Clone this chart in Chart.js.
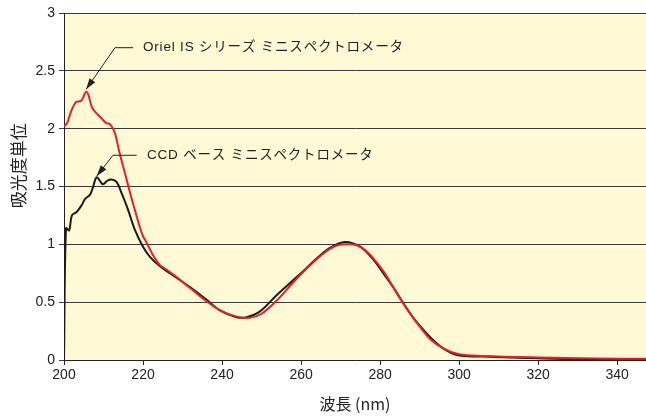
<!DOCTYPE html>
<html>
<head>
<meta charset="utf-8">
<script src="https://cdn.jsdelivr.net/npm/chart.js@4"></script>
<style>
  html, body { margin: 0; padding: 0; background: #fff; }
  #wrap { width: 646px; height: 418px; }
</style>
</head>
<body>
<div id="wrap"><canvas id="spectrumChart" width="646" height="418"></canvas></div>
<script>
// wavelength (nm) / absorbance
const orielWavelengths = [200, 200.8, 201.8, 203, 204.3, 205, 205.6, 206.2, 207, 208, 209.5, 210.6, 211.6, 212.4, 213, 214, 215, 216, 217, 218, 219, 220, 221, 222, 223, 224.3, 226, 228, 232, 236, 240, 243.7, 247, 250, 254, 258, 262, 266, 269, 272.4, 275, 278, 281, 284, 287, 290, 293, 296, 300, 306, 320, 335, 347.5];
const orielAbsorbance  = [2.02, 2.05, 2.15, 2.23, 2.24, 2.28, 2.32, 2.29, 2.19, 2.14, 2.09, 2.05, 2.04, 2.00, 1.95, 1.80, 1.67, 1.54, 1.41, 1.29, 1.17, 1.07, 1.01, 0.94, 0.88, 0.82, 0.78, 0.73, 0.62, 0.51, 0.42, 0.375, 0.365, 0.40, 0.52, 0.67, 0.81, 0.93, 0.99, 1.00, 0.98, 0.89, 0.76, 0.59, 0.43, 0.29, 0.17, 0.10, 0.05, 0.035, 0.022, 0.014, 0.01];

const ccdWavelengths = [200, 200.5, 201.3, 202, 203.2, 204.5, 205.3, 206.6, 207.3, 208.3, 209.8, 211, 212, 213.3, 214.6, 216.2, 218, 220, 221.8, 224.3, 226.8, 231.9, 236.1, 239.5, 243.7, 246.2, 249.6, 253.8, 257, 260.6, 264, 267.3, 271.1, 274.9, 278, 280.8, 283.5, 285.9, 288.5, 291, 293.5, 296, 299.8, 306, 319.7, 331, 347.5];
const ccdAbsorbance  = [0.0, 1.14, 1.12, 1.25, 1.28, 1.34, 1.39, 1.43, 1.49, 1.58, 1.52, 1.55, 1.56, 1.54, 1.44, 1.30, 1.12, 0.98, 0.89, 0.81, 0.75, 0.63, 0.52, 0.43, 0.37, 0.37, 0.42, 0.56, 0.66, 0.77, 0.88, 0.97, 1.02, 0.98, 0.88, 0.75, 0.62, 0.49, 0.36, 0.26, 0.17, 0.10, 0.04, 0.03, 0.015, 0.006, 0.005];

const yTicks = [0, 0.5, 1, 1.5, 2, 2.5, 3];
const xTicks = [200, 220, 240, 260, 280, 300, 320, 340];

const orielLabel = 'Oriel IS シリーズ ミニスペクトロメータ';
const ccdLabel = 'CCD ベース ミニスペクトロメータ';
const yTitle = '吸光度単位';

const toPoints = (xs, ys) => xs.map((x, i) => ({ x: x, y: ys[i] }));

// yellow plot area behind everything
const plotBackground = {
    id: 'plotBackground',
    beforeDraw(chart) {
        const { ctx, chartArea: a } = chart;
        ctx.save();
        ctx.fillStyle = '#fff9d6';
        ctx.fillRect(a.left, a.top, a.right - a.left, a.bottom - a.top);
        ctx.restore();
    }
};

// y title sits a bit above the middle in the original, so draw it by hand
const yTitlePlugin = {
    id: 'yTitle',
    afterDraw(chart) {
        const { ctx, chartArea: a } = chart;
        ctx.save();
        ctx.translate(a.left - 45, a.top + (a.bottom - a.top) * 0.44);
        ctx.rotate(-Math.PI / 2);
        ctx.font = '17px "Noto Sans CJK JP", sans-serif';
        ctx.fillStyle = '#222';
        ctx.textAlign = 'center';
        ctx.textBaseline = 'middle';
        ctx.fillText(yTitle, 0, 0);
        ctx.restore();
    }
};

// callouts: arrow tip on the curve, elbow, then a short horizontal line and the label
const callouts = [
    { text: orielLabel, tip: [205.6, 2.34], elbow: [212.9, 2.70], lineEnd: 217.5, textX: 220 },
    { text: ccdLabel, tip: [208.3, 1.59], elbow: [212.4, 1.77], lineEnd: 218.4, textX: 221 }
];

const calloutPlugin = {
    id: 'callouts',
    afterDatasetsDraw(chart) {
        const { ctx, scales: { x, y } } = chart;
        ctx.save();
        ctx.strokeStyle = '#222';
        ctx.fillStyle = '#222';
        ctx.lineWidth = 1;
        callouts.forEach(c => {
            const tx = x.getPixelForValue(c.tip[0]), ty = y.getPixelForValue(c.tip[1]);
            const ex = x.getPixelForValue(c.elbow[0]), ey = y.getPixelForValue(c.elbow[1]);
            const lx = x.getPixelForValue(c.lineEnd);
            ctx.beginPath();
            ctx.moveTo(lx, ey);
            ctx.lineTo(ex, ey);
            ctx.lineTo(tx, ty);
            ctx.stroke();
            // arrow head
            const ang = Math.atan2(ty - ey, tx - ex);
            const len = 11, half = 3.5;
            ctx.beginPath();
            ctx.moveTo(tx, ty);
            ctx.lineTo(tx - len * Math.cos(ang) + half * Math.sin(ang), ty - len * Math.sin(ang) - half * Math.cos(ang));
            ctx.lineTo(tx - len * Math.cos(ang) - half * Math.sin(ang), ty - len * Math.sin(ang) + half * Math.cos(ang));
            ctx.closePath();
            ctx.fill();
            ctx.font = '13.5px "Liberation Sans", "Noto Sans CJK JP", sans-serif';
            ctx.letterSpacing = '0.8px';
            ctx.textBaseline = 'middle';
            ctx.textAlign = 'left';
            ctx.fillText(c.text, x.getPixelForValue(c.textX), ey);
        });
        ctx.restore();
    }
};

const ctx = document.getElementById('spectrumChart').getContext('2d');
new Chart(ctx, {
    type: 'line',
    data: {
        datasets: [
            {
                label: orielLabel,
                data: toPoints(orielWavelengths, orielAbsorbance),
                borderColor: '#ee1c25',
                borderWidth: 2,
                pointRadius: 0,
                tension: 0.35
            },
            {
                label: ccdLabel,
                data: toPoints(ccdWavelengths, ccdAbsorbance),
                borderColor: '#1a1a1a',
                borderWidth: 2,
                pointRadius: 0,
                tension: 0.35
            }
        ]
    },
    options: {
        responsive: false,
        animation: false,
        layout: { padding: { top: 13, right: 0, left: 0, bottom: 0 } },
        plugins: {
            legend: { display: false },
            tooltip: { enabled: false }
        },
        scales: {
            x: {
                type: 'linear',
                min: 200,
                max: 347.3,
                afterBuildTicks: scale => { scale.ticks = xTicks.map(v => ({ value: v })); },
                afterFit: scale => { scale.height = 58; },
                ticks: {
                    color: '#222',
                    padding: 2,
                    maxRotation: 0,
                    callback: v => String(v),
                    font: { family: '"Liberation Sans", Arial, sans-serif', size: 14 }
                },
                grid: { drawOnChartArea: false, drawTicks: true, tickLength: 5, color: '#222' },
                border: { display: true, color: '#222', width: 1 },
                title: {
                    display: true,
                    text: '波長 (nm)',
                    color: '#222',
                    padding: { top: 0, bottom: 4 },
                    font: { family: '"Noto Sans CJK JP", sans-serif', size: 16 }
                }
            },
            y: {
                min: 0,
                max: 3,
                afterBuildTicks: scale => { scale.ticks = yTicks.map(v => ({ value: v })); },
                afterFit: scale => { scale.width = 64; },
                ticks: {
                    color: '#222',
                    padding: 4,
                    callback: v => String(v),
                    font: { family: '"Liberation Sans", Arial, sans-serif', size: 14 }
                },
                grid: { color: '#3a3a3a', lineWidth: 1, drawTicks: true, tickLength: 5 },
                border: { display: true, color: '#222', width: 1 }
            }
        }
    },
    plugins: [plotBackground, yTitlePlugin, calloutPlugin]
});
</script>
</body>
</html>
